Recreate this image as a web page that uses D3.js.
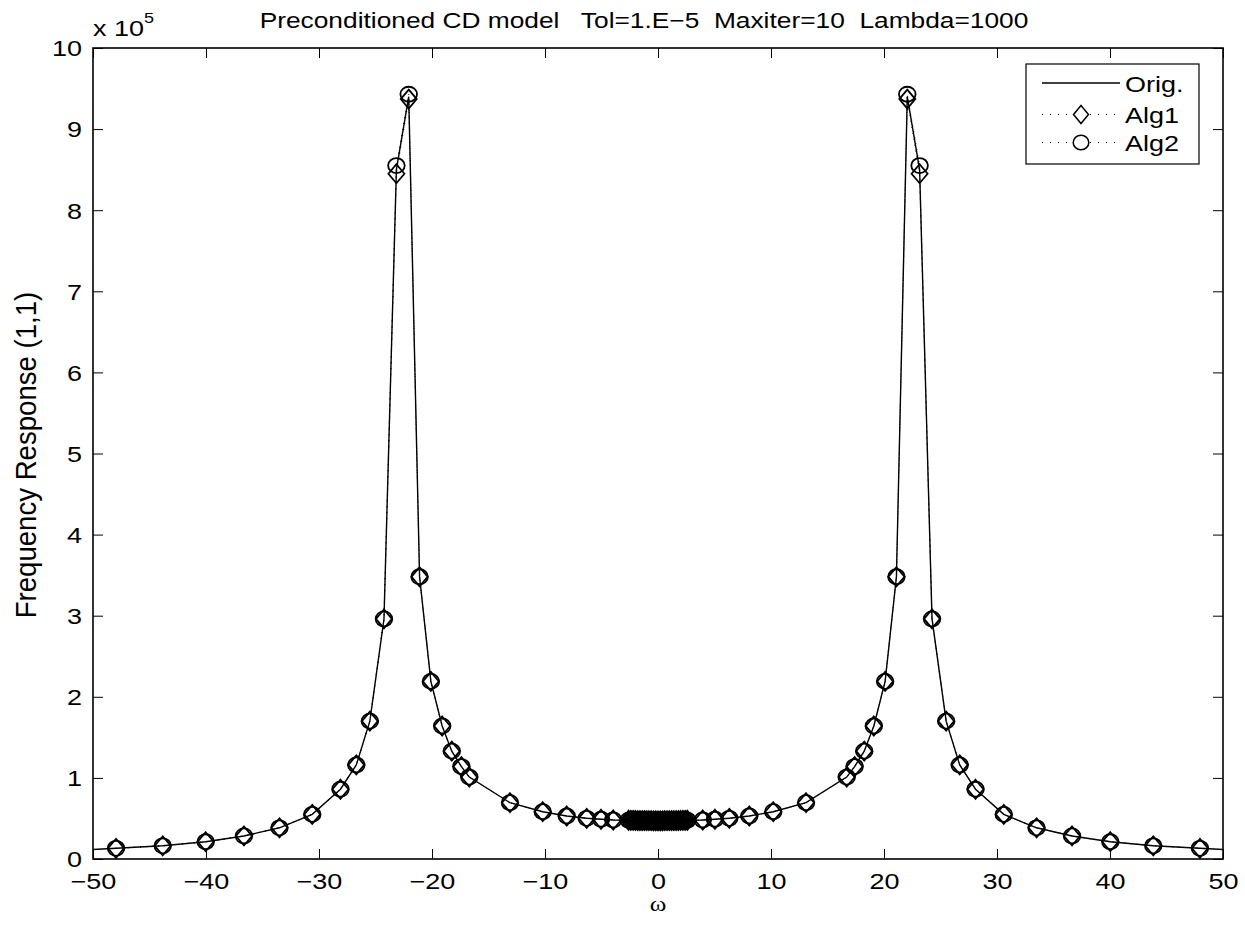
<!DOCTYPE html>
<html><head><meta charset="utf-8">
<script src="https://cdn.jsdelivr.net/npm/d3@7"></script>
<style>
html,body{margin:0;padding:0;background:#fff;}
text{font-family:"Liberation Sans",Arial,Helvetica,sans-serif;fill:#000;white-space:pre;}
</style></head>
<body>
<svg id="chart" width="1245" height="925"></svg>
<script>
// ---- data (frequency ω, response in units of 1e5) ----
const omega = [-50, -47.96, -43.83, -40.03, -36.64, -33.50, -30.60, -28.10, -26.70, -25.50, -24.25, -23.15, -22.06, -21.10, -20.10, -19.10, -18.25, -17.40, -16.70, -13.10, -10.20, -8.08, -6.31, -5.04, -3.96,
  -2.6, -2.4, -2.2, -2.0, -1.8, -1.6, -1.4, -1.2, -1.0, -0.8, -0.6, -0.4, -0.2, 0, 0.2, 0.4, 0.6, 0.8, 1.0, 1.2, 1.4, 1.6, 1.8, 2.0, 2.2, 2.4, 2.6,
  3.96, 5.04, 6.31, 8.08, 10.20, 13.10, 16.70, 17.40, 18.25, 19.10, 20.10, 21.10, 22.06, 23.15, 24.25, 25.50, 26.70, 28.10, 30.60, 33.50, 36.64, 40.03, 43.83, 47.96, 50];
const orig = [0.118, 0.132, 0.163, 0.213, 0.284, 0.385, 0.55, 0.86, 1.16, 1.70, 2.96, 8.50, 9.40, 3.48, 2.19, 1.64, 1.33, 1.14, 1.01, 0.694, 0.583, 0.530, 0.502, 0.490, 0.481,
  0.478, 0.477, 0.476, 0.475, 0.474, 0.474, 0.473, 0.473, 0.472, 0.472, 0.472, 0.471, 0.471, 0.471, 0.471, 0.471, 0.472, 0.472, 0.472, 0.473, 0.473, 0.474, 0.474, 0.475, 0.476, 0.477, 0.478,
  0.481, 0.490, 0.502, 0.530, 0.583, 0.694, 1.01, 1.14, 1.33, 1.64, 2.19, 3.48, 9.40, 8.50, 2.96, 1.70, 1.16, 0.86, 0.55, 0.385, 0.284, 0.213, 0.163, 0.132, 0.118];
// algorithm samples (same ω as orig, without the two end points)
const alg1 = [0.132, 0.163, 0.213, 0.284, 0.385, 0.55, 0.86, 1.16, 1.70, 2.96, 8.45, 9.37, 3.48, 2.19, 1.64, 1.33, 1.14, 1.01, 0.694, 0.583, 0.530, 0.502, 0.490, 0.481,
  0.478, 0.477, 0.476, 0.475, 0.474, 0.474, 0.473, 0.473, 0.472, 0.472, 0.472, 0.471, 0.471, 0.471, 0.471, 0.471, 0.472, 0.472, 0.472, 0.473, 0.473, 0.474, 0.474, 0.475, 0.476, 0.477, 0.478,
  0.481, 0.490, 0.502, 0.530, 0.583, 0.694, 1.01, 1.14, 1.33, 1.64, 2.19, 3.48, 9.37, 8.45, 2.96, 1.70, 1.16, 0.86, 0.55, 0.385, 0.284, 0.213, 0.163, 0.132];
const alg2 = [0.132, 0.163, 0.213, 0.284, 0.385, 0.55, 0.86, 1.16, 1.70, 2.96, 8.55, 9.43, 3.48, 2.19, 1.64, 1.33, 1.14, 1.01, 0.694, 0.583, 0.530, 0.502, 0.490, 0.481,
  0.478, 0.477, 0.476, 0.475, 0.474, 0.474, 0.473, 0.473, 0.472, 0.472, 0.472, 0.471, 0.471, 0.471, 0.471, 0.471, 0.472, 0.472, 0.472, 0.473, 0.473, 0.474, 0.474, 0.475, 0.476, 0.477, 0.478,
  0.481, 0.490, 0.502, 0.530, 0.583, 0.694, 1.01, 1.14, 1.33, 1.64, 2.19, 3.48, 9.43, 8.55, 2.96, 1.70, 1.16, 0.86, 0.55, 0.385, 0.284, 0.213, 0.163, 0.132];
const algOmega = omega.slice(1, omega.length - 1);
const xTicks = [-50, -40, -30, -20, -10, 0, 10, 20, 30, 40, 50];
const yTicks = [0, 1, 2, 3, 4, 5, 6, 7, 8, 9, 10];
const titleText = "Preconditioned CD model   Tol=1.E\u22125  Maxiter=10  Lambda=1000";
const yLabel = "Frequency Response (1,1)";
const xLabel = "\u03c9";
const legendNames = ["Orig.", "Alg1", "Alg2"];

// ---- layout ----
const L = 93, R = 1223, T = 48, B = 859;
const FS = 22.5, SX = 1.2;
const svg = d3.select("#chart");
const x = d3.scaleLinear().domain([-50, 50]).range([L, R]);
const y = d3.scaleLinear().domain([0, 10]).range([B, T]);
const minus = s => String(s).replace("-", "\u2212");

function styleAxis(g) {
  g.select(".domain").remove();
  g.selectAll(".tick line").attr("stroke", "#000").attr("stroke-width", 1);
}
// bottom axis
svg.append("g").attr("transform", `translate(0,${B})`)
  .call(d3.axisBottom(x).tickValues(xTicks).tickSize(-10).tickSizeOuter(0).tickPadding(14).tickFormat(minus))
  .call(styleAxis)
  .call(g => g.selectAll(".tick text").attr("font-size", FS).attr("font-family", null)
    .attr("transform", `scale(${SX},1)`));
// top axis
svg.append("g").attr("transform", `translate(0,${T})`)
  .call(d3.axisTop(x).tickValues(xTicks).tickSize(-10).tickSizeOuter(0).tickFormat(""))
  .call(styleAxis);
// left axis
svg.append("g").attr("transform", `translate(${L},0)`)
  .call(d3.axisLeft(y).tickValues(yTicks).tickSize(-10).tickSizeOuter(0).tickFormat(d3.format("d")))
  .call(styleAxis)
  .call(g => g.selectAll(".tick text").attr("font-size", FS).attr("font-family", null)
    .attr("x", null).attr("text-anchor", "end").attr("dy", "0.35em")
    .attr("transform", `translate(-11,0) scale(${SX},1)`));
// right axis
svg.append("g").attr("transform", `translate(${R},0)`)
  .call(d3.axisRight(y).tickValues(yTicks).tickSize(-10).tickSizeOuter(0).tickFormat(""))
  .call(styleAxis);
// box
svg.append("rect").attr("x", L).attr("y", T).attr("width", R - L).attr("height", B - T)
  .attr("fill", "none").attr("stroke", "#000").attr("stroke-width", 1.6);

// ---- series ----
const line = d3.line();
const origPts = omega.map((w, i) => [x(w), y(orig[i])]);
const a1Pts = algOmega.map((w, i) => [x(w), y(alg1[i])]);
const a2Pts = algOmega.map((w, i) => [x(w), y(alg2[i])]);

svg.append("path").attr("d", line(a1Pts)).attr("fill", "none").attr("stroke", "#000")
  .attr("stroke-width", 1).attr("stroke-dasharray", "1,5");
svg.append("path").attr("d", line(a2Pts)).attr("fill", "none").attr("stroke", "#000")
  .attr("stroke-width", 1).attr("stroke-dasharray", "1,5");
svg.append("path").attr("d", line(origPts)).attr("fill", "none").attr("stroke", "#000")
  .attr("stroke-width", 1.4);

const diamond = (hw, hh) => `M0,${-hh}L${hw},0L0,${hh}L${-hw},0Z`;
svg.append("g").selectAll("path").data(a1Pts).join("path")
  .attr("transform", d => `translate(${d[0]},${d[1]})`)
  .attr("d", diamond(8, 9.5)).attr("fill", "none").attr("stroke", "#000").attr("stroke-width", 1.8);
svg.append("g").selectAll("ellipse").data(a2Pts).join("ellipse")
  .attr("cx", d => d[0]).attr("cy", d => d[1]).attr("rx", 8.3).attr("ry", 7.5)
  .attr("fill", "none").attr("stroke", "#000").attr("stroke-width", 1.8);

// ---- texts ----
function stext(px, py, str, anchor, size, sx) {
  return svg.append("text").attr("transform", `translate(${px},${py}) scale(${sx},1)`)
    .attr("text-anchor", anchor).attr("font-size", size).text(str);
}
stext(644, 28, titleText, "middle", FS, 1.17);
const ex = svg.append("text").attr("transform", `translate(${L},36) scale(${SX},1)`).attr("font-size", FS);
ex.append("tspan").text("x 10");
ex.append("tspan").attr("dy", -13).attr("font-size", 15).text("5");
svg.append("text").attr("transform", `translate(36,455) rotate(-90) scale(1.15,${SX})`)
  .attr("text-anchor", "middle").attr("font-size", 24).text(yLabel);
svg.append("text").attr("transform", `translate(658,911) scale(${SX},1)`)
  .attr("text-anchor", "middle").attr("font-size", 21).style("font-family", "'Liberation Serif','DejaVu Serif',serif").text(xLabel);

// ---- legend ----
const lg = svg.append("g");
lg.append("rect").attr("x", 1026).attr("y", 64).attr("width", 173).attr("height", 100)
  .attr("fill", "#fff").attr("stroke", "#000").attr("stroke-width", 1.2);
const rowsY = [83, 114.5, 142.5];
lg.append("line").attr("x1", 1042).attr("x2", 1120).attr("y1", rowsY[0]).attr("y2", rowsY[0])
  .attr("stroke", "#000").attr("stroke-width", 1.4);
[1, 2].forEach(i => {
  lg.append("line").attr("x1", 1042).attr("x2", 1120).attr("y1", rowsY[i]).attr("y2", rowsY[i])
    .attr("stroke", "#000").attr("stroke-width", 1).attr("stroke-dasharray", "1,7");
});
lg.append("path").attr("transform", `translate(1081,${rowsY[1]})`).attr("d", diamond(7.5, 9))
  .attr("fill", "#fff").attr("stroke", "#000").attr("stroke-width", 1.5);
lg.append("ellipse").attr("cx", 1081).attr("cy", rowsY[2]).attr("rx", 7.8).attr("ry", 7.3)
  .attr("fill", "#fff").attr("stroke", "#000").attr("stroke-width", 1.5);
legendNames.forEach((n, i) => {
  lg.append("text").attr("transform", `translate(1125,${rowsY[i] + 8.5}) scale(${SX},1)`)
    .attr("font-size", FS).text(n);
});
</script>
</body></html>
